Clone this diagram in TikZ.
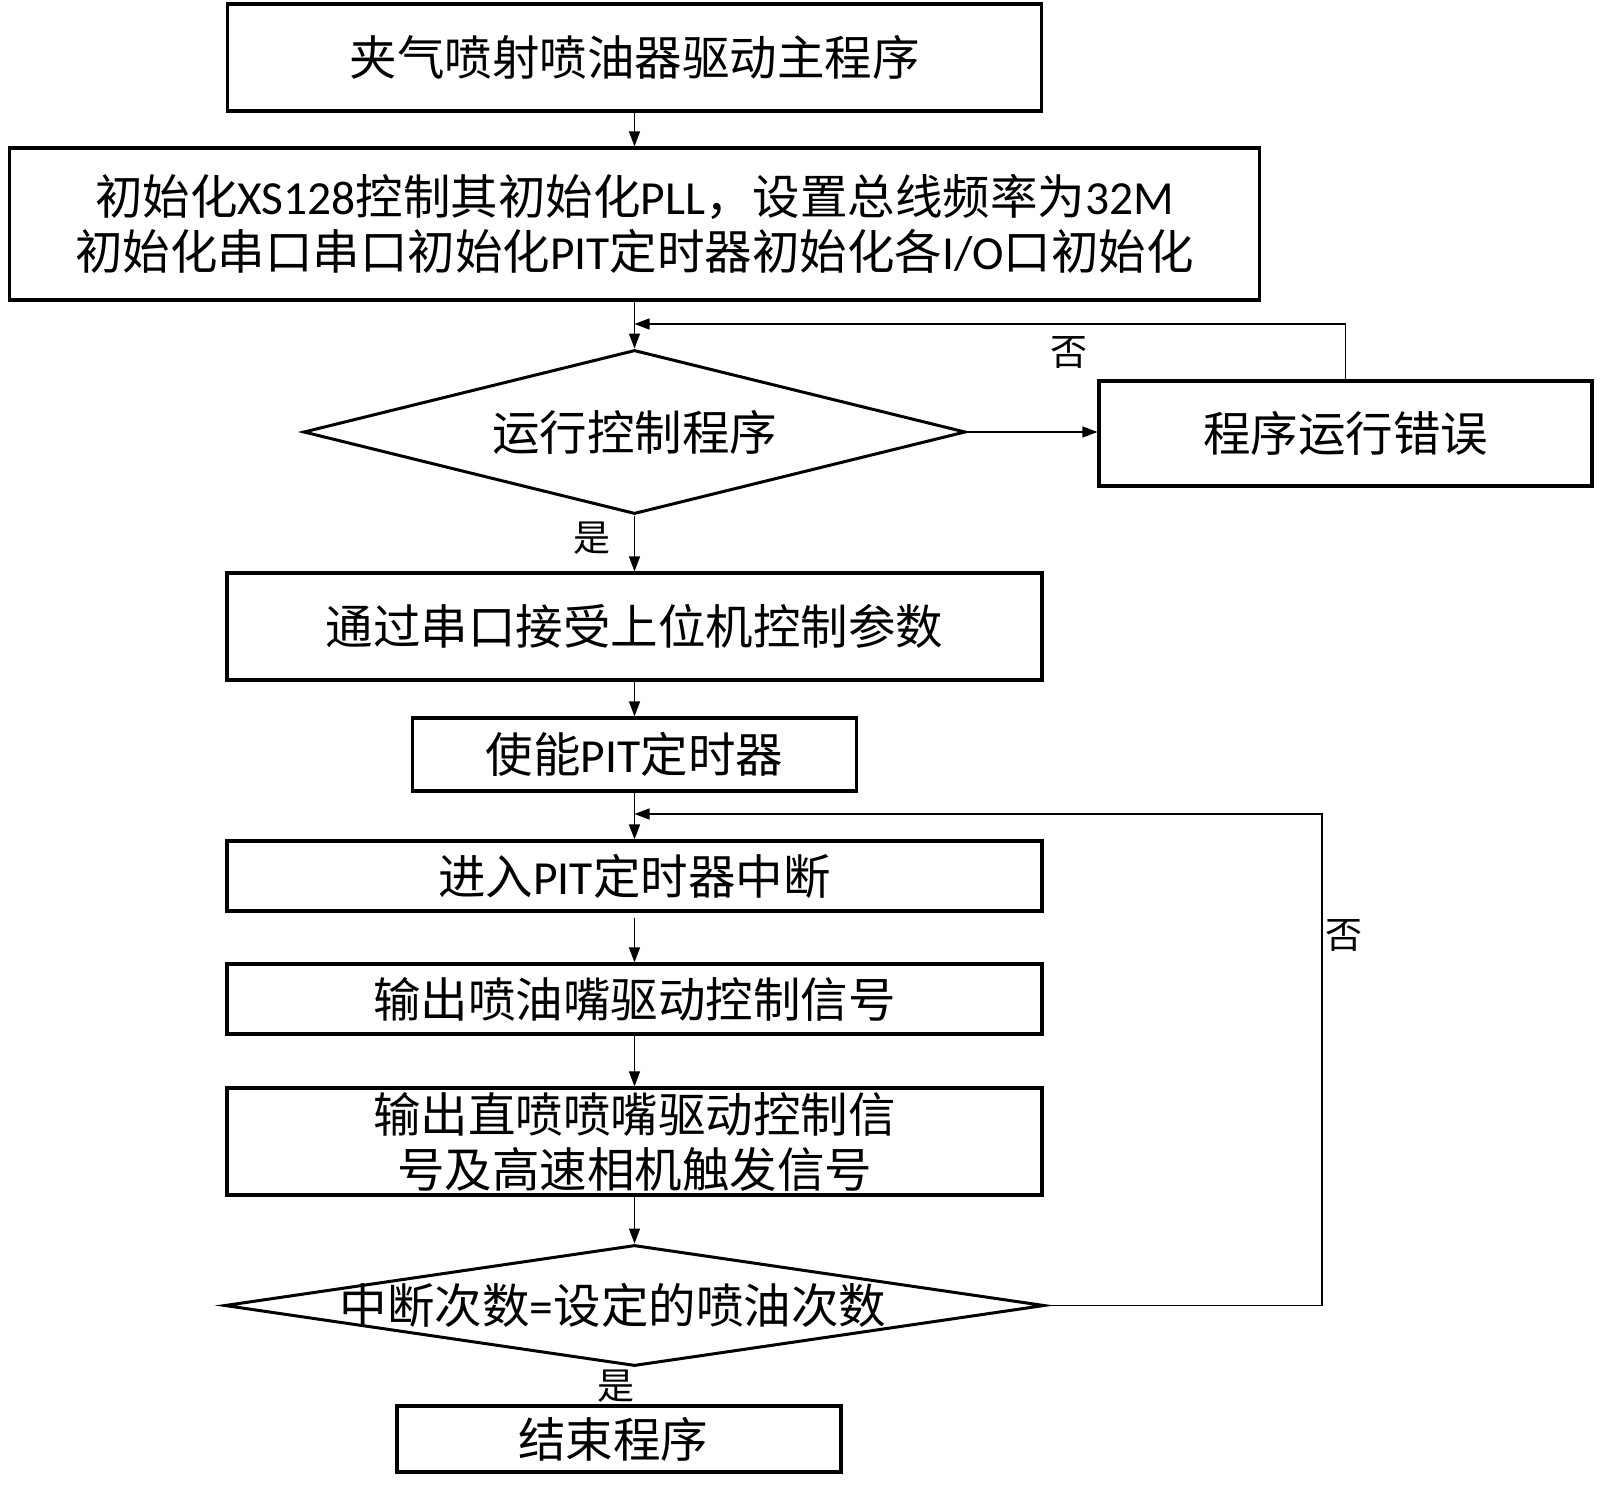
\documentclass[tikz,border=0pt]{standalone}
\usepackage{fontspec}
\setmainfont{Noto Sans CJK SC}
\newfontfamily\latfont{Carlito}
\newcommand{\latx}[1]{{\latfont #1}}
\usetikzlibrary{shapes.geometric,arrows.meta}
\tikzset{
  box/.style={draw, line width=3.2pt, inner sep=0pt, align=center, font=\fontsize{47.5}{55}\selectfont},
  dia/.style={draw, diamond, line width=3pt, inner sep=0pt},
  txt/.style={font=\fontsize{47.5}{55}\selectfont, inner sep=0pt, align=center},
  lbl/.style={font=\fontsize{37}{40}\selectfont, inner sep=0pt},
  conn/.style={line width=1.3pt, -{Triangle[length=15pt,width=11pt]}},
}
\begin{document}
\begin{tikzpicture}[x=1pt,y=-1pt]
\useasboundingbox (0,0) rectangle (1600,1490);
\fill[white] (0,0) rectangle (1600,1490);
% boxes
\node[box, minimum width=814pt, minimum height=107pt] (b1) at (634.5,57.5) {夹气喷射喷油器驱动主程序};
\node[box, minimum width=1250pt, minimum height=152pt] (b2) at (634.5,224) {初始化\latx{XS128}控制其初始化\latx{PLL}，设置总线频率为\latx{32M}\\初始化串口串口初始化\latx{PIT}定时器初始化各\latx{I/O}口初始化};
\node[dia, minimum width=662pt, minimum height=164pt] (d1) at (634.5,432) {};
\node[txt] (t1) at (634.5,432) {运行控制程序};
\node[box, minimum width=493pt, minimum height=105pt] (err) at (1345.5,433.5) {程序运行错误};
\node[box, minimum width=815pt, minimum height=107pt] (b3) at (634.5,626.5) {通过串口接受上位机控制参数};
\node[box, minimum width=444pt, minimum height=73pt] (b4) at (634.5,754.5) {使能\latx{PIT}定时器};
\node[box, minimum width=815pt, minimum height=70pt] (b5) at (634.5,876) {进入\latx{PIT}定时器中断};
\node[box, minimum width=815pt, minimum height=70pt] (b6) at (634.5,999) {输出喷油嘴驱动控制信号};
\node[box, minimum width=815pt, minimum height=107pt] (b7) at (634.5,1141.5) {输出直喷喷嘴驱动控制信\\号及高速相机触发信号};
\node[dia, minimum width=820pt, minimum height=121pt] (d2) at (634.5,1305.5) {};
\node[txt] (t2) at (613,1305.5) {中断次数\latx{=}设定的喷油次数};
\node[box, minimum width=444pt, minimum height=66pt] (b8) at (619,1439) {};
\node[txt] (t8) at (613,1439) {结束程序};
% labels
\node[lbl] (no1) at (1069,352) {否};
\node[lbl] (yes1) at (592,538) {是};
\node[lbl] (no2) at (1344,935) {否};
\node[lbl] (yes2) at (616,1386) {是};
% helper coordinates
\coordinate (f1) at (634.5,324);
\coordinate (f2) at (634.5,814);
\coordinate (r2) at (1322,1305.5);
% connectors
\draw[conn] (b1.south) -- (b2.north);
\draw[conn] (b2.south) -- (d1.north);
\draw[conn] (err.north) |- (f1);
\draw[conn] (d1.east) -- (d1.east -| err.west);
\draw[conn] (d1.south) -- (b3.north);
\draw[conn] (b3.south) -- (b4.north);
\draw[conn] (b4.south) -- (b5.north);
\draw[conn, shorten <=5pt] (b5.south) -- (b6.north);
\draw[conn] (b6.south) -- (b7.north);
\draw[conn] (b7.south) -- (d2.north);
\draw[conn] (d2.east) -- (r2) |- (f2);
\end{tikzpicture}
\end{document}
